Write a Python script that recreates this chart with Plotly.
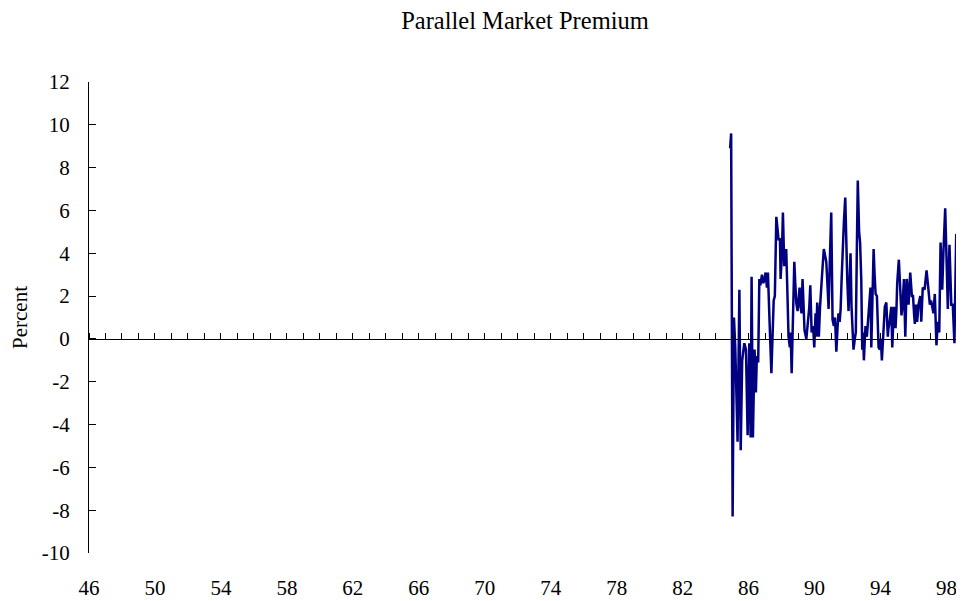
import plotly.graph_objects as go

# Decimal years (two-digit, 19xx) and parallel market premium (percent)
years = [84.88, 84.94, 85.03, 85.11, 85.19, 85.33, 85.44, 85.52, 85.61, 85.74,
         85.84, 85.94, 86.04, 86.12, 86.18, 86.26, 86.36, 86.44, 86.50, 86.58,
         86.65, 86.71, 86.81, 86.89, 86.97, 87.03, 87.11, 87.17, 87.27, 87.38,
         87.52, 87.59, 87.68, 87.76, 87.82, 87.90, 87.94, 88.02, 88.08, 88.16,
         88.24, 88.28, 88.35, 88.42, 88.50, 88.55, 88.61, 88.68, 88.77, 88.83,
         88.89, 88.97, 89.03, 89.09, 89.15, 89.21, 89.27, 89.35, 89.39, 89.50,
         89.56, 89.62, 89.68, 89.74, 89.82, 89.91, 89.98, 90.06, 90.10, 90.16,
         90.26, 90.33, 90.41, 90.48, 90.56, 90.64, 90.71, 90.79, 90.85, 90.93,
         91.01, 91.09, 91.17, 91.24, 91.32, 91.39, 91.45, 91.52, 91.58, 91.64,
         91.70, 91.78, 91.86, 91.92, 91.98, 92.06, 92.12, 92.18, 92.24, 92.30,
         92.36, 92.44, 92.50, 92.56, 92.62, 92.70, 92.76, 92.83, 92.89, 92.94,
         92.99, 93.06, 93.09, 93.17, 93.23, 93.29, 93.35, 93.39, 93.44, 93.50,
         93.58, 93.64, 93.70, 93.78, 93.82, 93.88, 93.96, 94.02, 94.08, 94.14,
         94.18, 94.26, 94.35, 94.41, 94.44, 94.48, 94.55, 94.65, 94.71, 94.81,
         94.87, 94.91, 94.97, 95.01, 95.11, 95.19, 95.27, 95.33, 95.42, 95.50,
         95.59, 95.70, 95.80, 95.90, 95.97, 96.03, 96.08, 96.15, 96.22, 96.30,
         96.41, 96.47, 96.56, 96.67, 96.73, 96.79, 96.88, 96.99, 97.06, 97.11,
         97.21, 97.29, 97.33, 97.39, 97.47, 97.56, 97.64, 97.74, 97.82, 97.92,
         98.00, 98.08, 98.18, 98.29, 98.38, 98.48, 98.59, 98.68, 98.77]

premium = [8.9, 9.6, -8.3, 1.0, -0.4, -4.8, 2.3, -5.2, -1.0, -0.2,
           -0.5, -4.5, -0.2, -4.6, 2.9, -4.6, -0.5, -2.5, -0.8, -1.1,
           2.8, 2.5, 3.0, 2.6, 2.8, 3.1, 2.4, 3.1, 0.8, -1.6,
           1.8, 2.0, 5.7, 5.0, 4.6, 4.7, 2.8, 4.0, 5.9, 3.4,
           4.0, 4.2, 2.2, 0.1, -0.4, 0.3, -1.6, 1.0, 3.6, 2.6,
           1.7, 1.3, 1.8, 2.4, 1.5, 1.2, 2.8, 1.5, 0.4, 0.0,
           0.5, 0.9, 1.5, 2.5, 0.3, 0.6, -0.4, 1.2, 0.1, 1.7,
           0.1, 1.5, 2.8, 3.3, 4.2, 3.8, 3.6, 2.4, 1.4, 3.8,
           5.9, 0.9, 0.6, 1.0, -0.6, 0.5, 1.2, 0.8, 1.4, 2.8,
           4.3, 5.5, 6.6, 4.5, 2.8, 1.3, 2.5, 4.0, 1.5, 0.3,
           -0.5, 0.0, 0.3, 4.0, 7.4, 5.0, 4.5, 2.8, -0.5, 0.3,
           -1.0, 0.2, 0.6, 0.1, 0.8, 1.5, 1.8, 2.4, -0.4, 1.5,
           4.2, 3.0, 2.1, 2.0, 0.8, -0.4, -0.5, 0.0, -1.0, 0.0,
           0.6, 1.5, 1.7, 0.8, 0.1, 0.5, 0.8, 1.5, -0.4, 1.5,
           1.0, 0.5, 1.5, 2.6, 3.7, 2.3, 1.1, 1.5, 2.8, 0.1,
           2.8, 1.6, 3.1, 2.0, 2.0, 1.2, 0.7, 1.6, 0.8, 1.6,
           2.0, 0.8, 2.4, 2.3, 2.8, 3.2, 2.5, 1.6, 1.8, 1.6,
           1.2, 2.1, 1.0, -0.3, 0.8, 0.3, 4.5, 2.3, 4.2, 6.1,
           3.8, 1.4, 4.4, 1.6, 1.6, -0.2, 4.9, 3.0, 3.5]

x_tick_vals = [46, 50, 54, 58, 62, 66, 70, 74, 78, 82, 86, 90, 94, 98]
x_tick_text = [str(v) for v in x_tick_vals]
y_tick_vals = [-10, -8, -6, -4, -2, 0, 2, 4, 6, 8, 10, 12]
y_tick_text = [str(v) for v in y_tick_vals]  # plain hyphen minus as in the reference
x_range = [46, 99]
y_range = [-10, 12]

FONT = "Liberation Serif, Times New Roman, serif"

W, H = 956, 593  # page body has an 8px margin

fig = go.Figure()
fig.add_trace(go.Scatter(x=years, y=premium, mode="lines",
                         line=dict(color="#000080", width=2.5),
                         showlegend=False, hoverinfo="skip"))
# invisible trace on the zero-line axis so it renders
fig.add_trace(go.Scatter(x=[x_range[0]], y=[0], xaxis="x2", mode="markers",
                         marker=dict(opacity=0), showlegend=False, hoverinfo="skip"))

zero_pos = (0 - y_range[0]) / (y_range[1] - y_range[0])

fig.update_layout(
    width=W, height=H,
    paper_bgcolor="white", plot_bgcolor="white",
    margin=dict(l=81, r=1, t=74, b=40),
    font=dict(family=FONT, size=21, color="black"),
    title=dict(text="Parallel Market Premium", x=517 / W, xanchor="center",
               y=1 - 12 / H, yanchor="middle", yref="container",
               font=dict(family=FONT, size=24.5, color="black")),
    xaxis=dict(range=x_range, tickvals=x_tick_vals, ticktext=x_tick_text,
               showline=False, showgrid=False, zeroline=False, ticks="",
               ticklabelstandoff=20, tickfont=dict(size=21)),
    xaxis2=dict(range=x_range, overlaying="x", anchor="free", position=zero_pos,
                side="top", showline=True, linecolor="black", linewidth=1,
                ticks="outside", dtick=1, tick0=46, ticklen=6, tickwidth=1,
                tickcolor="black", showticklabels=False, showgrid=False,
                zeroline=False),
    yaxis=dict(range=y_range, tickvals=y_tick_vals, ticktext=y_tick_text,
               showline=True, linecolor="black", linewidth=1, ticks="inside",
               ticklen=7, tickcolor="black", showgrid=False, zeroline=False,
               ticklabelstandoff=14, tickfont=dict(size=21),
               title=dict(text="Percent", font=dict(size=21), standoff=10)),
)

fig.write_html("out.html")
